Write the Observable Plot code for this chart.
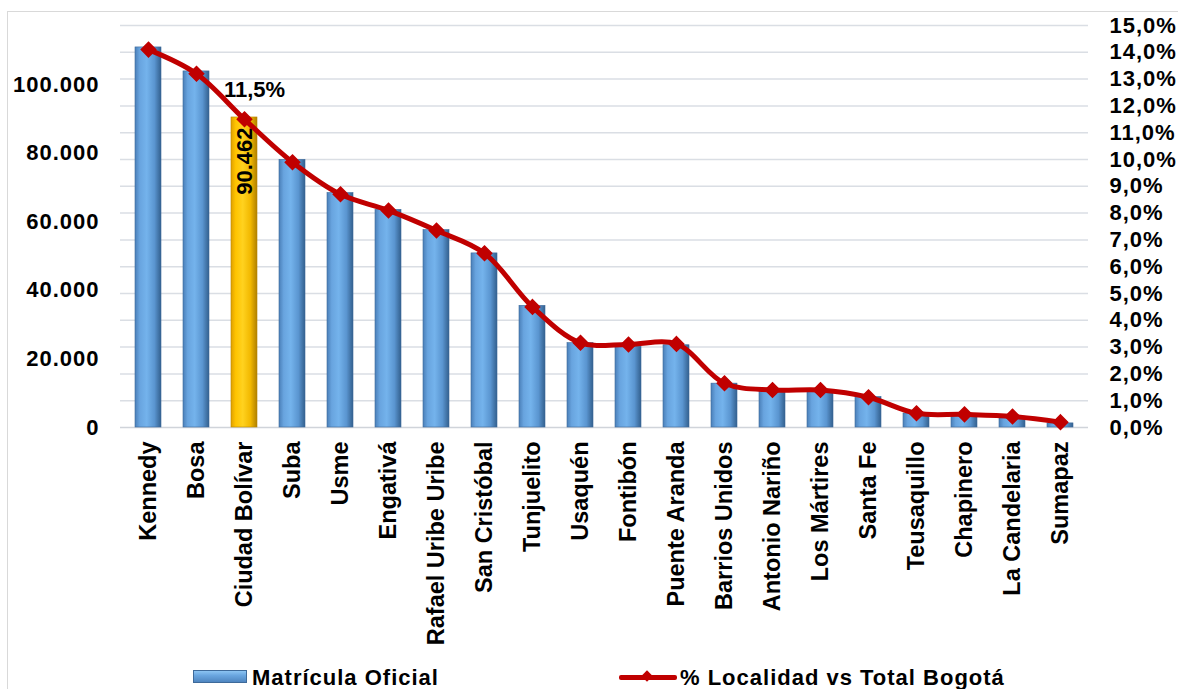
<!DOCTYPE html>
<html>
<head>
<meta charset="utf-8">
<script src="https://cdn.jsdelivr.net/npm/d3@7"></script>
<script src="https://cdn.jsdelivr.net/npm/@observablehq/plot@0.6"></script>
<style>
  body { margin: 0; background: #fff; width: 1178px; height: 689px; overflow: hidden; position: relative;
         font-family: "Liberation Sans", Arial, sans-serif; }
  #frame { position: absolute; left: 7px; top: 11px; width: 1200px; height: 700px;
           border-left: 1.5px solid #d9d9d9; border-top: 1.5px solid #d9d9d9; }
  #chart { position: absolute; left: 0; top: 0; }
  .lg-text { position: absolute; top: 667px; font-weight: bold; font-size: 22px; line-height: 22px;
             letter-spacing: 1px; color: #000; white-space: nowrap; }
  .sw-bar { position: absolute; left: 193px; top: 670px; width: 54px; height: 13px; box-sizing: border-box;
            background: linear-gradient(180deg, #8cc4f2 0%, #6aa6e0 40%, #4f86c0 100%); border: 1px solid #3e6a9a; }
  .sw-line { position: absolute; left: 619px; top: 675px; width: 58px; height: 5px; background: #c00000; border-radius: 2px; }
  .sw-dia { position: absolute; left: 643px; top: 672px; width: 8px; height: 8px; background: #c00000; transform: rotate(45deg); }
</style>
</head>
<body>
<div id="frame"></div>
<div id="chart"></div>
<div class="sw-bar"></div><div class="lg-text" style="left:252px">Matrícula Oficial</div>
<div class="sw-line"></div><div class="sw-dia"></div><div class="lg-text" style="left:680px">% Localidad vs Total Bogotá</div>
<script>
const categories = ["Kennedy","Bosa","Ciudad Bolívar","Suba","Usme","Engativá","Rafael Uribe Uribe","San Cristóbal","Tunjuelito","Usaquén","Fontibón","Puente Aranda","Barrios Unidos","Antonio Nariño","Los Mártires","Santa Fe","Teusaquillo","Chapinero","La Candelaria","Sumapaz"];
const matricula = [110900,103900,90462,78100,68400,63500,57600,50800,35500,24600,23600,24000,12800,10800,10800,8900,4100,3800,3200,1200];
const pctLocalidad = [14.1,13.2,11.5,9.9,8.7,8.1,7.35,6.5,4.5,3.16,3.1,3.12,1.65,1.4,1.4,1.13,0.53,0.49,0.41,0.2];
const leftTicks = [0,20000,40000,60000,80000,100000];
const rightTicks = [0,1,2,3,4,5,6,7,8,9,10,11,12,13,14,15];
const highlight = "Ciudad Bolívar";

const LEFT_MAX = 117300;
const PCT_MAX = 15;
const toPct = v => v / LEFT_MAX * PCT_MAX;
const rows = categories.map((c, i) => ({cat: c, value: matricula[i], pct: pctLocalidad[i]}));
const fmtInt = d3.formatLocale({decimal: ",", thousands: ".", grouping: [3], currency: ["$", ""]}).format(",d");
const fmtPct = d => d.toFixed(1).replace(".", ",") + "%";
const FONT = '"Liberation Sans", Arial, sans-serif';

const chart = Plot.plot({
  width: 1178, height: 650,
  marginLeft: 120, marginRight: 90, marginTop: 25, marginBottom: 223,
  style: {fontFamily: FONT, fontWeight: "bold", fontSize: "22px", color: "#000", background: "transparent", overflow: "visible"},
  x: {domain: categories, paddingInner: 0.46, paddingOuter: 0.23, label: null},
  y: {domain: [0, PCT_MAX], label: null},
  marks: [
    Plot.ruleY(rightTicks.slice(1), {y: d => d, stroke: "#dadee4", strokeWidth: 1.5}),
    Plot.ruleY([0], {stroke: "#d0d4da", strokeWidth: 1.5}),
    Plot.barY(rows, {filter: d => d.cat !== highlight, x: "cat", y: d => toPct(d.value), fill: "url(#gBlue)", stroke: "#3e6a9a", strokeWidth: 0.6}),
    Plot.barY(rows, {filter: d => d.cat === highlight, x: "cat", y: d => toPct(d.value), fill: "url(#gGold)", stroke: "#b88600", strokeWidth: 0.6}),
    Plot.text(rows, {filter: d => d.cat === highlight, x: "cat", y: d => toPct(d.value), text: d => fmtInt(d.value),
      rotate: -90, textAnchor: "end", dy: 10, fontSize: 22, fontWeight: "bold", fill: "#000"}),
    Plot.line(rows, {x: "cat", y: "pct", stroke: "#c00000", strokeWidth: 5, curve: "catmull-rom"}),
    Plot.dot(rows, {x: "cat", y: "pct", symbol: "diamond2", r: 6.5, fill: "#c00000", stroke: "#c00000"}),
    Plot.text(rows, {filter: d => d.cat === highlight, x: "cat", y: "pct", text: d => fmtPct(d.pct), dx: 10, dy: -29, fontSize: 22, fontWeight: "bold", fill: "#000"}),
    Plot.axisY(leftTicks.map(toPct), {anchor: "left", tickSize: 0, tickPadding: 21, label: null,
      tickFormat: d => fmtInt(Math.round(d / PCT_MAX * LEFT_MAX / 1000) * 1000), fontSize: 22}),
    Plot.axisY(rightTicks, {anchor: "right", tickSize: 0, tickPadding: 21, label: null, tickFormat: fmtPct, fontSize: 22}),
    Plot.axisX({anchor: "bottom", tickRotate: -90, tickSize: 0, tickPadding: 14, label: null, fontSize: 23.5})
  ]
});

const svg = d3.select(chart);
svg.selectAll('g[aria-label="y-axis tick label"] text').style("letter-spacing", "1px");
const defs = svg.insert("defs", ":first-child");
function grad(id, stops) {
  const g = defs.append("linearGradient").attr("id", id).attr("x1", 0).attr("x2", 1).attr("y1", 0).attr("y2", 0);
  stops.forEach(([o, c]) => g.append("stop").attr("offset", o).attr("stop-color", c));
}
grad("gBlue", [["0%", "#4a7fb8"], ["18%", "#68a4df"], ["45%", "#74b3ec"], ["75%", "#5a95d0"], ["100%", "#33608e"]]);
grad("gGold", [["0%", "#e0a000"], ["18%", "#ffc400"], ["45%", "#ffd21f"], ["75%", "#f2b800"], ["100%", "#b08000"]]);
document.getElementById("chart").appendChild(chart);
</script>
</body>
</html>
